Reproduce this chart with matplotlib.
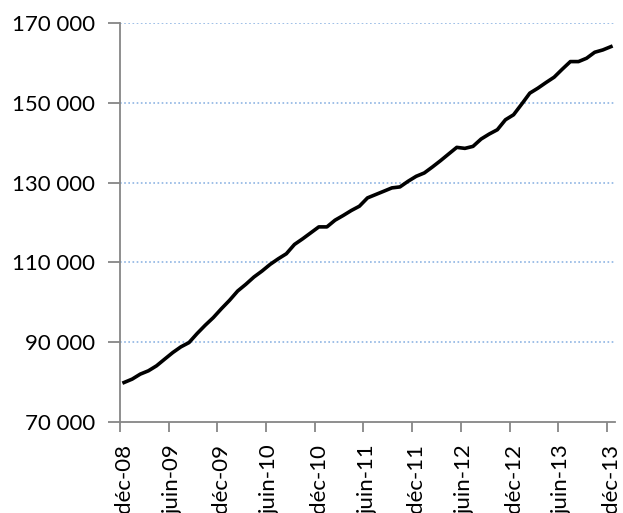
import matplotlib.pyplot as plt
import numpy as np

# données mensuelles de déc-08 à déc-13
values = [79900, 80750, 82000, 82830, 84080, 85750, 87400, 88830, 89900, 92170,
          94250, 96170, 98400, 100500, 102830, 104500, 106330, 107830, 109500, 110900,
          112170, 114500, 115900, 117400, 118900, 118900, 120580, 121750, 123000, 124080,
          126170, 127000, 127830, 128670, 128920, 130330, 131580, 132420, 133920, 135500,
          137170, 138830, 138580, 139080, 140920, 142170, 143250, 145750, 147000, 149670,
          152420, 153670, 155080, 156420, 158420, 160330, 160330, 161170, 162670, 163250,
          164080]
tick_labels = ['déc-08', 'juin-09', 'déc-09', 'juin-10', 'déc-10', 'juin-11',
               'déc-11', 'juin-12', 'déc-12', 'juin-13', 'déc-13']
y_ticks = [70000, 90000, 110000, 130000, 150000, 170000]

plt.rcParams['font.family'] = ['Lato', 'DejaVu Sans']
axis_col = '#868686'

fig = plt.figure(figsize=(6.23, 5.13), dpi=100)
ax = fig.add_axes([120/623, 1-422/513, 495/623, 399/513])

x = np.arange(len(values))
ax.plot(x, values, color='black', lw=2.6, solid_joinstyle='round')

ax.set_xlim(-0.5, len(values) - 0.5)
ax.set_ylim(70000, 170000)

ax.set_yticks(y_ticks)
ax.set_yticklabels([f'{v:,}'.replace(',', ' ') for v in y_ticks], fontsize=16)
for v in y_ticks[1:]:
    ax.axhline(v, color='#8eb4e3', lw=1.2, ls=(0, (1, 1.5)), zorder=0)

ax.set_xticks(np.arange(-0.5, len(values), 6))
ax.set_xticklabels([])
ax.set_xticks(np.arange(0, len(values), 6), minor=True)
ax.set_xticklabels(tick_labels, minor=True, rotation=90, fontsize=16)
ax.tick_params(axis='x', which='minor', length=0, pad=16)
ax.tick_params(axis='x', which='major', length=7, color=axis_col, width=1.3)
ax.tick_params(axis='y', length=9, color=axis_col, width=1.3, pad=9)

for s in ['top', 'right']:
    ax.spines[s].set_visible(False)
for s in ['left', 'bottom']:
    ax.spines[s].set_color(axis_col)
    ax.spines[s].set_linewidth(1.3)

fig.savefig('out.png', dpi=100)
